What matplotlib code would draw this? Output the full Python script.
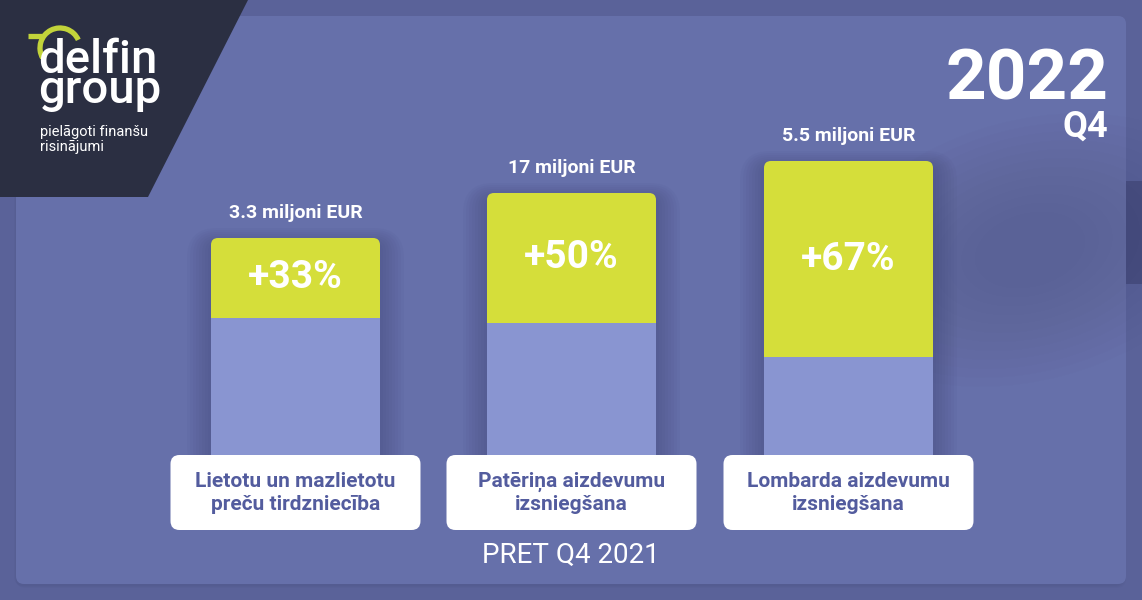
import matplotlib.pyplot as plt
from matplotlib.patches import FancyBboxPatch, Polygon, Arc, Ellipse, Rectangle

# dati
categories = ['Lietotu un mazlietotu\npreču tirdzniecība',
              'Patēriņa aizdevumu\nizsniegšana',
              'Lombarda aizdevumu\nizsniegšana']
value_labels = ['3.3 miljoni EUR', '17 miljoni EUR', '5.5 miljoni EUR']
growth_labels = ['+33%', '+50%', '+67%']
prev_height = [137, 132, 98]      # 2021 daļa (stabiņa augstums)
growth_height = [80, 130, 196]    # pieaugums (stabiņa augstums)

BG = '#5a6299'
PANEL = '#6670aa'
LIME = '#d5de3a'
BASE = '#8995d1'
DARK = '#2b2f42'
LABEL_TXT = '#535c9e'
FONT = 'Roboto'

W, H = 1142, 600
fig = plt.figure(figsize=(W / 100, H / 100), dpi=100)
fig.patch.set_facecolor(BG)
ax = fig.add_axes([0, 0, 1, 1])
ax.set_xlim(0, W)
ax.set_ylim(H, 0)
ax.axis('off')

# panelis ar ēnu
for i in range(3):
    ax.add_patch(FancyBboxPatch((16 - 2 + i, 16 + 2 + i), 1110, 568,
                                boxstyle='round,pad=0,rounding_size=10',
                                fc='#3c4272', ec='none', alpha=0.06, zorder=0))
ax.add_patch(Rectangle((1120, 181), 22, 103, fc='#4b5183', ec='none', zorder=0.5))
ax.add_patch(FancyBboxPatch((16, 16), 1110, 568,
                            boxstyle='round,pad=0,rounding_size=8',
                            fc=PANEL, ec='none', zorder=1))
# tumšāks laukums labajā pusē
for k in range(12):
    ax.add_patch(Ellipse((1030, 250), 420 - 28 * k, 260 - 17 * k, angle=-15,
                         fc='#3c4272', ec='none', alpha=0.022, zorder=1.2))

# logo
ax.add_patch(Polygon([(0, 0), (248, 0), (148, 197), (0, 197)],
                     closed=True, fc=DARK, ec='none', zorder=2))
ax.add_patch(Arc((60, 48), 40, 40, theta1=150, theta2=336,
                 ec='#c2d33a', lw=3.8, zorder=3))
ax.plot([28, 42], [36, 36], color='#c2d33a', lw=3.8, solid_capstyle='butt', zorder=3)
ax.text(38, 73, 'delfin', color='white', fontsize=34, fontweight='medium',
        family=FONT, ha='left', va='baseline', zorder=4)
ax.text(38, 103, 'group', color='white', fontsize=34, fontweight='medium',
        family=FONT, ha='left', va='baseline', zorder=4)
ax.text(40, 136, 'pielāgoti finanšu', color='white', fontsize=10.5,
        family=FONT, ha='left', va='baseline', zorder=4)
ax.text(40, 151, 'risinājumi', color='white', fontsize=10.5,
        family=FONT, ha='left', va='baseline', zorder=4)

# virsraksts
ax.text(1108, 100, '2022', color='white', fontsize=51, fontweight='bold',
        family=FONT, ha='right', va='baseline', zorder=4)
ax.text(1108, 137, 'Q4', color='white', fontsize=26, fontweight='bold',
        family=FONT, ha='right', va='baseline', zorder=4)

# stabiņi
x = [295.5, 571.5, 848.5]
bar_w = 169
base_y = 455
prev_top = [base_y - p for p in prev_height]
growth_top = [pt - g for pt, g in zip(prev_top, growth_height)]

# mīkstas ēnas ap stabiņiem
for xi, gt in zip(x, growth_top):
    for k in range(1, 9):
        ax.add_patch(FancyBboxPatch((xi - bar_w / 2 - 3 * k, gt - 2 * k + 6),
                                    bar_w + 6 * k, base_y - gt + 4 * k,
                                    boxstyle='round,pad=0,rounding_size=%d' % (6 + 3 * k),
                                    fc='#3c4272', ec='none', alpha=0.05, zorder=2))

for xi, gt, g in zip(x, growth_top, growth_height):
    ax.add_patch(FancyBboxPatch((xi - bar_w / 2, gt), bar_w, g + 8,
                                boxstyle='round,pad=0,rounding_size=7',
                                fc=LIME, ec='none', zorder=3))
ax.bar(x, prev_height, bottom=prev_top, width=bar_w, color=BASE, zorder=3.5)

for xi, gt, g, vl, gl in zip(x, growth_top, growth_height, value_labels, growth_labels):
    ax.text(xi, gt - 25, vl, color='white', fontsize=14, fontweight='bold',
            family=FONT, ha='center', va='center', zorder=5)
    ax.text(xi, gt + g / 2, gl, color='white', fontsize=28,
            fontweight='bold', family=FONT, ha='center', va='center', zorder=5)

# kategoriju kastes
for xi, cat in zip(x, categories):
    ax.add_patch(FancyBboxPatch((xi - 125, 455), 250, 75,
                                boxstyle='round,pad=0,rounding_size=9',
                                fc='white', ec='none', zorder=6))
    ax.text(xi, 493, cat, color=LABEL_TXT, fontsize=15, fontweight='bold',
            family=FONT, ha='center', va='center', linespacing=1.25, zorder=7)

ax.text(571, 555, 'PRET Q4 2021', color='white', fontsize=20,
        family=FONT, ha='center', va='center', zorder=5)

fig.savefig('out.png', dpi=100, facecolor=BG)
